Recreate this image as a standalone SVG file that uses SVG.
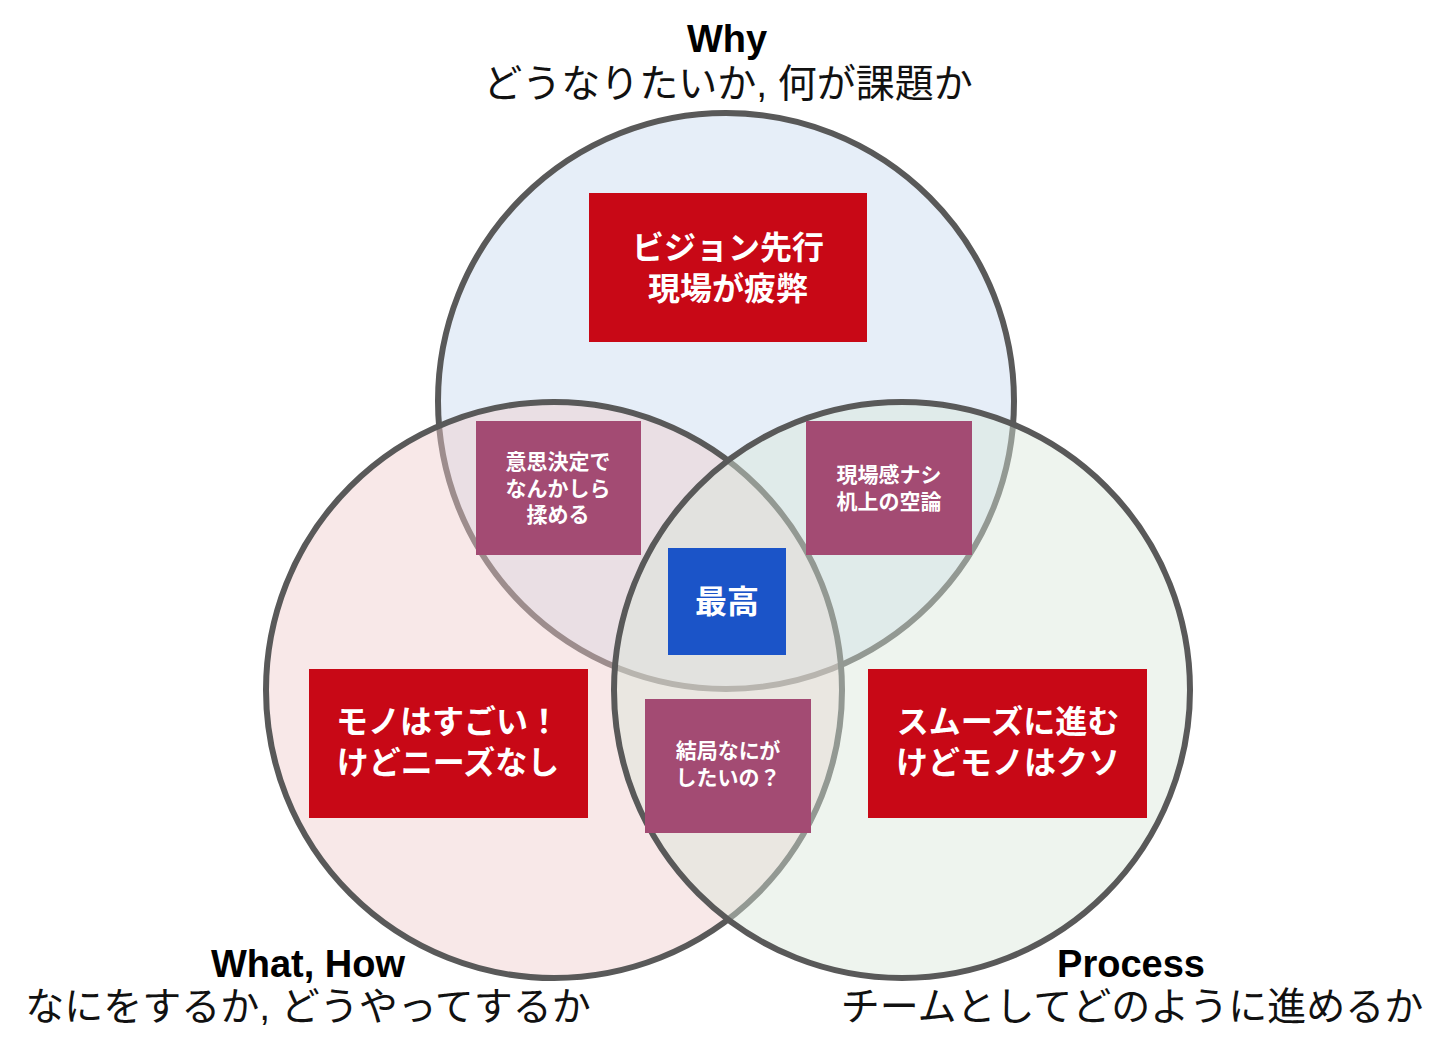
<svg xmlns="http://www.w3.org/2000/svg" width="1440" height="1052" viewBox="0 0 1440 1052">
  <style>
    .circle { stroke: #595959; stroke-width: 6; }
    .title { font-family: "Liberation Sans", Arial, sans-serif; font-weight: bold; font-size: 38px; fill: #000; text-anchor: middle; }
    .sub { font-family: "Liberation Sans", "Noto Sans CJK JP", sans-serif; font-size: 39px; fill: #111; text-anchor: middle; }
    .big { font-family: "Noto Sans CJK JP", sans-serif; font-weight: bold; font-size: 32px; fill: #fff; text-anchor: middle; }
    .small { font-family: "Noto Sans CJK JP", sans-serif; font-weight: bold; font-size: 21px; fill: #fff; text-anchor: middle; }
    .red { fill: #c80816; }
    .purple { fill: #a34b73; }
    .blue { fill: #1b54c8; }
  </style>
  <rect width="1440" height="1052" fill="#ffffff"/>

  <g id="circles">
    <circle id="why-circle" class="circle" cx="726" cy="401" r="288" fill="rgba(199,217,239,0.45)"/>
    <circle id="what-circle" class="circle" cx="554" cy="690" r="288" fill="rgba(239,204,204,0.45)"/>
    <circle id="process-circle" class="circle" cx="902" cy="690" r="288" fill="rgba(217,230,217,0.45)"/>
  </g>

  <g id="label-why">
    <text class="title" x="727" y="52">Why</text>
    <text class="sub" x="728" y="97">どうなりたいか, 何が課題か</text>
  </g>
  <g id="label-what">
    <text class="title" x="308" y="977">What, How</text>
    <text class="sub" x="308" y="1020">なにをするか, どうやってするか</text>
  </g>
  <g id="label-process">
    <text class="title" x="1131" y="977">Process</text>
    <text class="sub" x="1132" y="1020">チームとしてどのように進めるか</text>
  </g>

  <g id="box-vision">
    <rect class="red" x="589" y="193" width="278" height="149"/>
    <text class="big" x="728" y="259">ビジョン先行<tspan x="728" dy="41">現場が疲弊</tspan></text>
  </g>
  <g id="box-decision">
    <rect class="purple" x="476" y="421" width="165" height="134"/>
    <text class="small" x="558" y="469">意思決定で<tspan x="558" dy="26.5">なんかしら</tspan><tspan x="558" dy="26.5">揉める</tspan></text>
  </g>
  <g id="box-field">
    <rect class="purple" x="806" y="421" width="166" height="134"/>
    <text class="small" x="889" y="482">現場感ナシ<tspan x="889" dy="26.5">机上の空論</tspan></text>
  </g>
  <g id="box-best">
    <rect class="blue" x="668" y="548" width="118" height="107"/>
    <text class="big" x="727" y="613">最高</text>
  </g>
  <g id="box-mono">
    <rect class="red" x="309" y="669" width="279" height="149"/>
    <text class="big" x="448" y="733">モノはすごい！<tspan x="448" dy="41">けどニーズなし</tspan></text>
  </g>
  <g id="box-what">
    <rect class="purple" x="645" y="699" width="166" height="134"/>
    <text class="small" x="728" y="758">結局なにが<tspan x="728" dy="27">したいの？</tspan></text>
  </g>
  <g id="box-smooth">
    <rect class="red" x="868" y="669" width="279" height="149"/>
    <text class="big" x="1008" y="733">スムーズに進む<tspan x="1008" dy="41">けどモノはクソ</tspan></text>
  </g>
</svg>
